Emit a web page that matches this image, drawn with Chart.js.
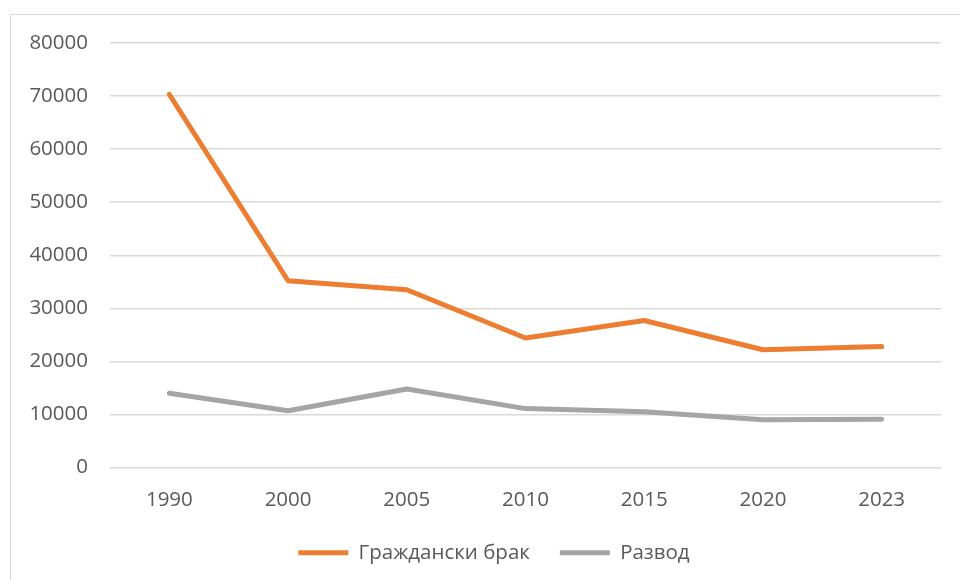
<!DOCTYPE html>
<html>
<head>
<meta charset="utf-8">
<script src="https://cdn.jsdelivr.net/npm/chart.js@4/dist/chart.umd.min.js"></script>
<style>
  html, body { margin: 0; padding: 0; background: #fff; }
  #wrap { position: relative; width: 960px; height: 580px; overflow: hidden; }
  #frame { position: absolute; left: 10px; top: 14px; width: 960px; height: 600px;
           border-top: 1px solid #d9d9d9; border-left: 1px solid #d9d9d9; }
  #box { position: absolute; left: 0; top: 0; width: 960px; height: 573px; }
</style>
</head>
<body>
<div id="wrap">
  <div id="frame"></div>
  <div id="box"><canvas id="myChart"></canvas></div>
</div>
<script>
var years = ['1990', '2000', '2005', '2010', '2015', '2020', '2023'];
var brak = [70300, 35200, 33500, 24400, 27700, 22200, 22800];
var razvod = [14000, 10700, 14800, 11100, 10500, 9000, 9100];
var yTicks = [0, 10000, 20000, 30000, 40000, 50000, 60000, 70000, 80000];

var textColor = '#595959';
var font = { family: 'Open Sans', size: 20.5 };

// legend in the original sits a bit right of the plot centre
var shiftLegend = {
    id: 'shiftLegend',
    afterLayout: function (chart) {
        chart.legend.left += 23.5;
        chart.legend.right += 23.5;
    }
};

var ctx = document.getElementById('myChart');
var myChart = new Chart(ctx, {
    type: 'line',
    data: {
        labels: years,
        datasets: [{
            label: 'Гражданcки брак',
            data: brak,
            borderColor: '#ED7D31',
            backgroundColor: '#ED7D31',
            borderWidth: 5,
            borderCapStyle: 'round',
            borderJoinStyle: 'round',
            pointRadius: 0,
            tension: 0
        }, {
            label: 'Развод',
            data: razvod,
            borderColor: '#A5A5A5',
            backgroundColor: '#A5A5A5',
            borderWidth: 5,
            borderCapStyle: 'round',
            borderJoinStyle: 'round',
            pointRadius: 0,
            tension: 0
        }]
    },
    plugins: [shiftLegend],
    options: {
        responsive: true,
        maintainAspectRatio: false,
        animation: false,
        layout: { padding: { top: 43, right: 19, left: 0, bottom: 0 } },
        plugins: {
            tooltip: { enabled: false },
            legend: {
                position: 'bottom',
                labels: {
                    usePointStyle: true,
                    pointStyle: 'line',
                    pointStyleWidth: 50,
                    boxWidth: 50,
                    boxHeight: 20,
                    padding: 30,
                    color: textColor,
                    font: font
                }
            }
        },
        scales: {
            x: {
                offset: true,
                grid: { display: false, drawTicks: false },
                border: { display: false },
                ticks: { color: textColor, font: font, padding: 20, maxRotation: 0 },
                afterFit: function (scale) { scale.height = 45; }
            },
            y: {
                min: 0,
                max: 80000,
                afterBuildTicks: function (scale) {
                    scale.ticks = yTicks.map(function (v) { return { value: v }; });
                },
                grid: { color: '#d9d9d9', lineWidth: 1.5, drawTicks: false },
                border: { display: false },
                ticks: {
                    color: textColor, font: font, padding: 22,
                    callback: function (v) { return String(v); }
                },
                afterFit: function (scale) { scale.width = 110; }
            }
        }
    }
});
</script>
</body>
</html>
